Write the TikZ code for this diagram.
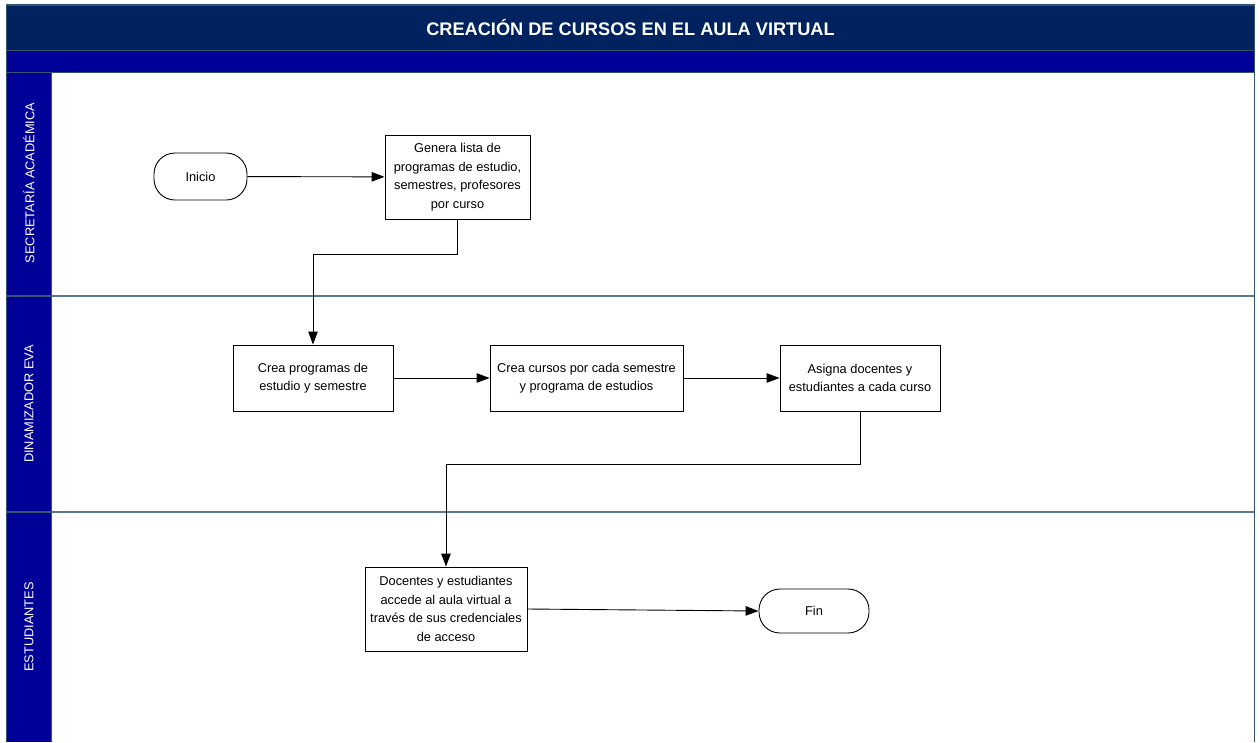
\documentclass[tikz,border=0pt]{standalone}
\usepackage{fontspec}
\setmainfont{Liberation Sans}
\usetikzlibrary{positioning,arrows.meta}
\definecolor{evaNavy}{RGB}{0,34,94}
\definecolor{evaBlue}{RGB}{0,0,153}
\definecolor{evaEdge}{RGB}{50,84,110}
\definecolor{evaRule}{RGB}{90,120,142}

\begin{document}
\begin{tikzpicture}[x=1pt, y=-1pt, >={Triangle[length=13pt,width=9.5pt]},
  every node/.style={font=\fontsize{12.8}{18.5}\selectfont, align=center, inner sep=0pt},
  proc/.style={draw, line width=0.9pt, fill=white, minimum height=66pt},
  term/.style={draw, line width=0.9pt, fill=white, rounded corners=21pt},
  lanelabel/.style={text=white, rotate=90}]
  \useasboundingbox (0,0) rectangle (1260,742);
  % pool and lanes
  \fill[evaNavy] (6.5,5) rectangle (1254.5,50);
  \fill[evaBlue] (6.5,50) rectangle (1254.5,72);
  \fill[evaBlue] (6.5,72) rectangle (51.5,742);
  \draw[evaRule, line width=1.2pt] (51.5,296) -- (1254.5,296);
  \draw[evaRule, line width=1.2pt] (51.5,512) -- (1254.5,512);
  \draw[evaEdge, line width=1.2pt] (6.5,296) -- (51.5,296);
  \draw[evaEdge, line width=1.2pt] (6.5,512) -- (51.5,512);
  \draw[evaEdge, line width=1pt] (6.5,50) -- (1254.5,50);
  \draw[evaEdge, line width=1pt] (6.5,72) -- (1254.5,72);
  \draw[evaEdge, line width=1pt] (51.5,72) -- (51.5,742);
  \draw[evaEdge, line width=1.4pt] (6.5,742) -- (6.5,5) -- (1254.5,5) -- (1254.5,742);
  \node[text=white, font=\bfseries\fontsize{18.2}{20}\selectfont] (title) at (630.5,27.5) {CREACIÓN DE CURSOS EN EL AULA VIRTUAL};
  \node[lanelabel] (secretaria) at (29,183) {SECRETARÍA ACADÉMICA};
  \node[lanelabel] (dinamizador) at (29,404) {DINAMIZADOR EVA};
  \node[lanelabel] (estudiantes) at (29,627) {ESTUDIANTES};
  % steps
  \node[term, minimum width=93pt, minimum height=47pt] (inicio) at (200.5,176.5) {Inicio};
  \node[proc, minimum width=145pt, minimum height=84pt] (genera) at (457.5,177) {Genera lista de\\programas de estudio,\\semestres, profesores\\por curso};
  \node[proc, minimum width=160pt] (programas) at (313,378) {Crea programas de\\estudio y semestre};
  \node[proc, minimum width=193pt] (cursos) at (586.5,378) {Crea cursos por cada semestre\\y programa de estudios};
  \node[proc, minimum width=160pt] (asigna) at (860,378) {Asigna docentes y\\estudiantes a cada curso};
  \node[proc, minimum width=162pt, minimum height=84pt] (acceso) at (446,609) {Docentes y estudiantes\\accede al aula virtual a\\través de sus credenciales\\de acceso};
  \node[term, minimum width=110pt, minimum height=44pt] (fin) at (814,611) {Fin};
  % flow
  \draw[->, line width=0.9pt] (inicio) -- (genera);
  \draw[->, line width=0.9pt] (genera.south) -- ++(0,35) -| (programas.north);
  \draw[->, line width=0.9pt] (programas) -- (cursos);
  \draw[->, line width=0.9pt] (cursos) -- (asigna);
  \draw[->, line width=0.9pt] (asigna.south) -- ++(0,53) -| (acceso.north);
  \draw[->, line width=0.9pt] (acceso.east) -- (fin.west);
\end{tikzpicture}
\end{document}
